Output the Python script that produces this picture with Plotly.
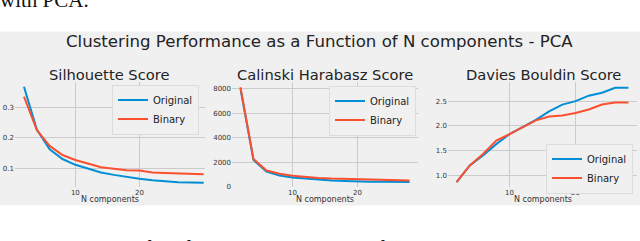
import plotly.graph_objects as go

# ---------------- data ----------------
n_sil = [2, 4, 6, 8, 10, 12, 14, 16, 18, 20, 22, 24, 26, 28, 30]
sil_original = [0.367, 0.227, 0.162, 0.130, 0.111, 0.098, 0.086, 0.078, 0.071, 0.065, 0.060, 0.056, 0.054, 0.053, 0.052]
sil_binary = [0.335, 0.225, 0.173, 0.143, 0.127, 0.116, 0.103, 0.098, 0.093, 0.092, 0.086, 0.084, 0.082, 0.081, 0.080]

n_comp = [2, 4, 6, 8, 10, 12, 14, 16, 18, 20, 22, 24, 26, 28]
ch_original = [8000, 2180, 1250, 930, 770, 670, 590, 510, 480, 430, 420, 410, 400, 390]
ch_binary = [8100, 2270, 1330, 1070, 900, 800, 720, 670, 640, 620, 600, 550, 540, 510]

db_original = [0.86, 1.20, 1.40, 1.63, 1.83, 1.97, 2.12, 2.29, 2.43, 2.50, 2.61, 2.67, 2.77, 2.77]
db_binary = [0.86, 1.20, 1.43, 1.70, 1.83, 1.97, 2.11, 2.19, 2.21, 2.26, 2.33, 2.43, 2.47, 2.47]

x_ticks = [10, 20]
sil_yticks = [0.1, 0.2, 0.3]
sil_yticklabels = ["0.1", "0.2", "0.3"]
ch_yticks = [0, 2000, 4000, 6000, 8000]
ch_yticklabels = ["0", "2000", "4000", "6000", "8000"]
db_yticks = [1.0, 1.5, 2.0, 2.5]
db_yticklabels = ["1.0", "1.5", "2.0", "2.5"]

series_names = ["Original", "Binary"]
subplot_titles = ["Silhouette Score", "Calinski Harabasz Score", "Davies Bouldin Score"]
suptitle = "Clustering Performance as a Function of N components - PCA"
x_title = "N components"

# ---------------- layout helpers ----------------
W, H = 640, 241
def fx(p):
    return p / W
def fy(p):
    return 1 - p / H

BLUE = "#008fd5"
RED = "#fc4f30"
BG = "#f0f0f0"
GRID = "#cbcbcb"
FONT = "DejaVu Sans"

fig = go.Figure()

panels = [
    (n_sil, sil_original, sil_binary, "legend"),
    (n_comp, ch_original, ch_binary, "legend2"),
    (n_comp, db_original, db_binary, "legend3"),
]
for i, (xs, yo, yb, lg) in enumerate(panels):
    ax = "" if i == 0 else str(i + 1)
    fig.add_trace(go.Scatter(x=xs, y=yo, mode="lines", name=series_names[0],
                             line=dict(color=BLUE, width=2),
                             xaxis="x" + ax, yaxis="y" + ax, legend=lg))
    fig.add_trace(go.Scatter(x=xs, y=yb, mode="lines", name=series_names[1],
                             line=dict(color=RED, width=2),
                             xaxis="x" + ax, yaxis="y" + ax, legend=lg))

ytop, ybot = 83.5, 190
xdoms = [(15, 205), (232, 418), (448, 637)]
xranges = [[0.6, 30.2], [0.7, 29.3], [0.7, 29.3]]
yranges = [[0.0387, 0.3823], [0, 8520], [0.766, 2.884]]
yticks = [(sil_yticks, sil_yticklabels), (ch_yticks, ch_yticklabels), (db_yticks, db_yticklabels)]

common_axis = dict(showgrid=True, gridcolor=GRID, gridwidth=1, zeroline=False,
                   showline=False, ticks="", tickfont=dict(family=FONT, size=7, color="#333"))

layout = dict(
    width=W, height=H, margin=dict(l=0, r=0, t=0, b=0),
    paper_bgcolor="white", plot_bgcolor=BG, showlegend=True,
    font=dict(family=FONT, color="#222"),
)
for i in range(3):
    ax = "" if i == 0 else str(i + 1)
    layout["xaxis" + ax] = dict(common_axis, domain=[fx(xdoms[i][0]), fx(xdoms[i][1])],
                                range=xranges[i], tickvals=x_ticks, ticktext=[str(v) for v in x_ticks],
                                anchor="y" + ax)
    layout["yaxis" + ax] = dict(common_axis, domain=[fy(ybot), fy(ytop)], range=yranges[i],
                                tickvals=yticks[i][0], ticktext=yticks[i][1], anchor="x" + ax)

legend_common = dict(bgcolor=BG, bordercolor="#dcdcdc", borderwidth=1,
                     font=dict(family=FONT, size=10, color="#222"),
                     xanchor="right", yanchor="top", tracegroupgap=0,
                     itemwidth=30)
layout["legend"] = dict(legend_common, x=fx(199), y=fy(86))
layout["legend2"] = dict(legend_common, x=fx(416), y=fy(87))
layout["legend3"] = dict(legend_common, x=fx(633), y=fy(146))

fig.update_layout(**layout)

# grey figure panel
fig.add_shape(type="rect", xref="paper", yref="paper", x0=0, x1=1, y0=fy(209), y1=fy(32),
              fillcolor=BG, line=dict(width=0), layer="below")

# titles
fig.add_annotation(text=suptitle, xref="paper", yref="paper", x=fx(319), y=fy(42),
                   showarrow=False, font=dict(family=FONT, size=16.6, color="#222"),
                   xanchor="center", yanchor="middle")
title_x = [109, 325, 543]
for t, xc in zip(subplot_titles, title_x):
    fig.add_annotation(text=t, xref="paper", yref="paper", x=fx(xc), y=fy(75.5),
                       showarrow=False, font=dict(family=FONT, size=14.7, color="#222"),
                       xanchor="center", yanchor="middle")
for (a, b) in xdoms:
    fig.add_annotation(text=x_title, xref="paper", yref="paper", x=fx((a + b) / 2), y=fy(203),
                       showarrow=False, font=dict(family=FONT, size=8, color="#333"),
                       xanchor="center", yanchor="middle")

# surrounding paper text (partly cut off in the crop)
fig.add_annotation(text="with PCA.", xref="paper", yref="paper", x=fx(91), y=fy(14),
                   showarrow=False, font=dict(family="Liberation Serif", size=21, color="#111"),
                   xanchor="right", yanchor="bottom")
fig.add_annotation(text="Figure 3:  Loss of performance in clustering for the original and binary data with",
                   xref="paper", yref="paper", x=fx(0), y=fy(238),
                   showarrow=False, font=dict(family="Liberation Serif", size=21, color="#111"),
                   xanchor="left", yanchor="top")

fig.write_html("out.html", config={"displayModeBar": False},
               post_script="document.body.style.margin='0';document.body.style.overflow='hidden';")
